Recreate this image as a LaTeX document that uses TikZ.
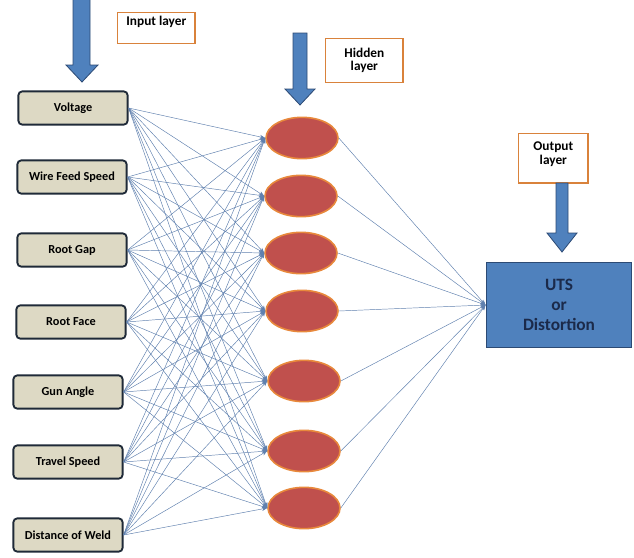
\documentclass[tikz,border=0pt]{standalone}
\usepackage{fontspec}
\setmainfont{Carlito}
\usetikzlibrary{arrows.meta,shapes.geometric}

\definecolor{boxfill}{HTML}{DDD9C4}
\definecolor{boxline}{HTML}{1F2A38}
\definecolor{neuron}{HTML}{C0504D}
\definecolor{neuronline}{HTML}{E8893C}
\definecolor{outfill}{HTML}{4F81BD}
\definecolor{outline}{HTML}{2C4A74}
\definecolor{outtext}{HTML}{1B2A4A}
\definecolor{labline}{HTML}{D9823B}
\definecolor{wire}{HTML}{5F80AE}

\tikzset{
  inbox/.style={draw=boxline, line width=1.4pt, fill=boxfill, rounded corners=3pt,
    minimum width=82pt, minimum height=25pt, font=\fontsize{9.2}{10}\selectfont\bfseries},
  hid/.style={ellipse, draw=neuronline, line width=1.2pt, fill=neuron,
    minimum width=54pt, minimum height=31pt, inner sep=0pt},
  labbox/.style={draw=labline, line width=1pt, fill=white, align=center,
    font=\fontsize{10}{10}\selectfont\bfseries},
  blockarr/.style={draw=outline, line width=0.6pt, fill=outfill},
  wireline/.style={draw=wire, line width=0.35pt, -{Stealth[length=4pt,width=3pt]}},
}

\begin{document}
\begin{tikzpicture}[x=0.75pt,y=-0.75pt]
\useasboundingbox (0,0) rectangle (634,557);

% input layer
\node[inbox] (in1) at (73,108) {Voltage};
\node[inbox] (in2) at (72,177) {Wire Feed Speed};
\node[inbox] (in3) at (72,250) {Root Gap};
\node[inbox] (in4) at (71,322) {Root Face};
\node[inbox] (in5) at (68,392) {Gun Angle};
\node[inbox] (in6) at (68,462) {Travel Speed};
\node[inbox] (in7) at (68,535) {Distance of Weld};

% hidden layer
\node[hid] (h1) at (302,138) {};
\node[hid] (h2) at (301,196) {};
\node[hid] (h3) at (301,253) {};
\node[hid] (h4) at (302,311) {};
\node[hid] (h5) at (304,381) {};
\node[hid] (h6) at (304,451) {};
\node[hid] (h7) at (304,508) {};

% output layer
\node[draw=outline, line width=1.2pt, fill=outfill, minimum width=109pt, minimum height=64pt,
  align=center, text=outtext, font=\fontsize{13}{15}\selectfont\bfseries] (out) at (559,305)
  {UTS\\or\\Distortion};

% connections
\foreach \i in {1,...,7}
  \foreach \j in {1,...,7}
    \draw[wireline] (in\i.east) -- (h\j.west);
\foreach \j in {1,...,7}
  \draw[wireline] (h\j.east) -- (out.west);

% layer labels
\node[labbox, minimum width=58pt, minimum height=23pt, anchor=north west, inner sep=1pt]
  (inlab) at (117,12) {Input layer\\[1pt]};
\node[labbox, minimum width=58pt, minimum height=33pt, anchor=north west, inner sep=1pt]
  (hidlab) at (325,38) {Hidden\\layer};
\node[labbox, minimum width=52pt, minimum height=37pt, anchor=north west, inner sep=1pt]
  (outlab) at (518,133) {Output\\layer\\[-2pt]};

% block arrows
\draw[blockarr] (73,-2) -- (90,-2) -- (90,65) -- (98,65) -- (82,82) -- (66,65) -- (73,65) -- cycle;
\draw[blockarr] (293,33) -- (307,33) -- (307,89) -- (315,89) -- (300,105) -- (285,89) -- (293,89) -- cycle;
\draw[blockarr] (556,183) -- (568,183) -- (568,233) -- (577,233) -- (562,252) -- (547,233) -- (556,233) -- cycle;
\end{tikzpicture}
\end{document}
